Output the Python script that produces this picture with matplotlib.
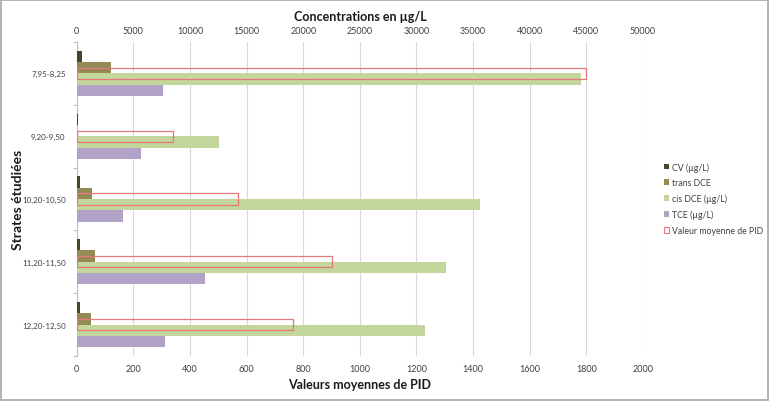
import matplotlib
matplotlib.use("Agg")
import matplotlib.pyplot as plt
from matplotlib.patches import Patch, Rectangle
import numpy as np

plt.rcParams['font.family'] = ['Lato', 'DejaVu Sans']

categories = ['7,95-8,25', '9,20-9,50', '10,20-10,50', '11,20-11,50', '12,20-12,50']
cv = [500, 150, 320, 300, 290]
trans_dce = [3000, 0, 1350, 1620, 1240]
cis_dce = [44500, 12550, 35600, 32650, 30750]
tce = [7650, 5700, 4100, 11300, 7800]
pid = [1800, 340, 570, 900, 765]

conc_ticks = [0, 5000, 10000, 15000, 20000, 25000, 30000, 35000, 40000, 45000, 50000]
pid_ticks = [0, 200, 400, 600, 800, 1000, 1200, 1400, 1600, 1800, 2000]

c_cv = '#4a452a'
c_trans = '#948a54'
c_cis = '#c3d69b'
c_tce = '#b3a2c7'
c_pid = '#e87878'

fig = plt.figure(figsize=(7.7, 4.02), dpi=100)
ax = fig.add_axes([76.7/770, 1-357/402, 566.3/770, 314/402])
ax2 = ax.twiny()

y = np.arange(len(categories))
h = 0.18
ax.barh(y - 1.5*h, cv, height=h, color=c_cv, zorder=3)
ax.barh(y - 0.5*h, trans_dce, height=h, color=c_trans, zorder=3)
ax.barh(y + 0.5*h, cis_dce, height=h, color=c_cis, zorder=3)
ax.barh(y + 1.5*h, tce, height=h, color=c_tce, zorder=3)
ax2.barh(y, pid, height=h, facecolor='none', edgecolor=c_pid, linewidth=0.9, zorder=4)

ax.set_xlim(0, 50000)
ax2.set_xlim(0, 2000)
ax.set_ylim(len(categories) - 0.5, -0.5)

ax.xaxis.tick_top()
ax.set_xticks(conc_ticks)
ax.set_xticklabels([str(t) for t in conc_ticks])
ax2.xaxis.tick_bottom()
ax2.set_xticks(pid_ticks)
ax2.set_xticklabels([str(t) for t in pid_ticks])
ax.tick_params(axis='x', length=0, pad=5, labelsize=6.5, labelcolor='#404040')
ax2.tick_params(axis='x', length=0, pad=6, labelsize=6.5, labelcolor='#404040')

ax.set_yticks(y)
ax.set_yticklabels(categories)
ax.set_yticks(np.arange(len(categories) + 1) - 0.5, minor=True)
ax.tick_params(axis='y', which='major', length=0, pad=8, labelsize=5.8, labelcolor='#404040')
ax.tick_params(axis='y', which='minor', length=3, width=0.8, color='#bfbfbf')
ax2.yaxis.set_visible(False)

ax.grid(axis='x', color='#d9d9d9', linewidth=0.8, zorder=0)
ax.set_axisbelow(True)
for a in (ax, ax2):
    for s in ('top', 'right', 'bottom'):
        a.spines[s].set_visible(False)
ax2.spines['left'].set_visible(False)
ax.spines['left'].set_color('#bfbfbf')
ax.spines['left'].set_linewidth(0.8)
ax2.patch.set_visible(False)

fig.text(360/770, 1-17/402, 'Concentrations en µg/L', ha='center', va='center',
         fontsize=9, fontweight='bold', color='#1a1a1a')
fig.text(360/770, 1-385/402, 'Valeurs moyennes de PID', ha='center', va='center',
         fontsize=9, fontweight='bold', color='#1a1a1a')
fig.text(18/770, 1-200/402, 'Strates étudiées', ha='center', va='center', rotation=90,
         fontsize=10, fontweight='bold', color='#1a1a1a')

handles = [
    Patch(facecolor=c_cv, edgecolor='none', label='CV (µg/L)'),
    Patch(facecolor=c_trans, edgecolor='none', label='trans DCE'),
    Patch(facecolor=c_cis, edgecolor='none', label='cis DCE (µg/L)'),
    Patch(facecolor=c_tce, edgecolor='none', label='TCE (µg/L)'),
    Patch(facecolor='none', edgecolor=c_pid, linewidth=0.8, label='Valeur moyenne de PID'),
]
fig.legend(handles=handles, loc='upper left', bbox_to_anchor=(664/770, 1-163/402),
           frameon=False, fontsize=6.3, handlelength=0.6, handleheight=0.6,
           handletextpad=0.35, labelspacing=0.75, borderpad=0, borderaxespad=0,
           labelcolor='#404040')

fig.patches.append(Rectangle((0.001, 0.002), 0.997, 0.996, transform=fig.transFigure,
                             fill=False, edgecolor='#a6a6a6', linewidth=1.2))

fig.savefig('out.png', dpi=100)
